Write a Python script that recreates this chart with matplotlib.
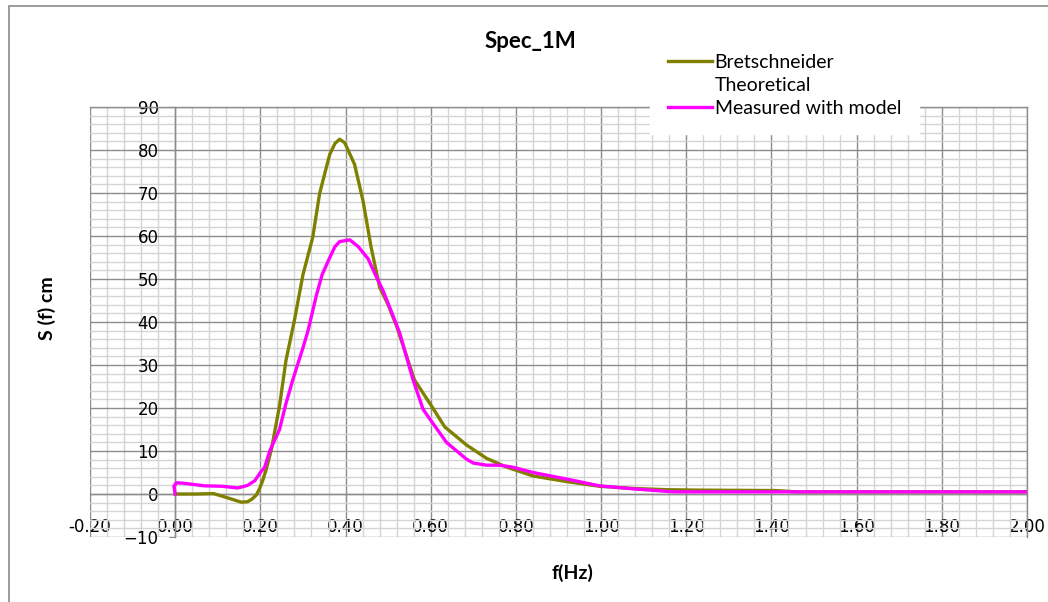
import numpy as np
import matplotlib
matplotlib.use("Agg")
import matplotlib.pyplot as plt
from matplotlib.lines import Line2D
from matplotlib.patches import Rectangle
from matplotlib.ticker import MultipleLocator, FormatStrFormatter

# Bretschneider (theoretical) spectrum
bret_f = [0.00, 0.05, 0.09, 0.12, 0.155, 0.17, 0.18, 0.19, 0.198, 0.205,
          0.214, 0.226, 0.245, 0.26, 0.28, 0.30, 0.323, 0.339, 0.355, 0.363,
          0.375, 0.386, 0.398, 0.421, 0.441, 0.46, 0.48, 0.50, 0.52, 0.54,
          0.562, 0.601, 0.633, 0.684, 0.731, 0.777, 0.84, 0.918, 0.996, 1.074,
          1.153, 1.23, 1.32, 1.41, 1.46, 1.60, 1.80, 2.00]
bret_s = [0.0, 0.0, 0.1, -0.8, -1.9, -1.8, -1.2, -0.3, 1.2, 3.0,
          5.8, 10.4, 20.5, 31.0, 40.4, 51.0, 59.7, 69.8, 76.0, 79.0,
          81.5, 82.5, 81.7, 76.7, 68.2, 57.4, 48.1, 44.0, 39.0, 33.0,
          26.5, 20.6, 15.6, 11.4, 8.3, 6.3, 4.2, 2.9, 1.8, 1.3,
          1.0, 0.9, 0.85, 0.8, 0.5, 0.5, 0.5, 0.5]

# measured spectrum with model
meas_f = [0.00, -0.003, 0.003, 0.02, 0.069, 0.11, 0.147, 0.17, 0.187, 0.20,
          0.21, 0.222, 0.245, 0.26, 0.276, 0.284, 0.30, 0.312, 0.331, 0.345,
          0.363, 0.375, 0.386, 0.41, 0.43, 0.453, 0.47, 0.488, 0.51, 0.527,
          0.54, 0.558, 0.582, 0.601, 0.637, 0.684, 0.70, 0.731, 0.763, 0.794,
          0.84, 0.918, 0.996, 1.075, 1.169, 1.40, 1.70, 2.00]
meas_s = [0.0, 1.8, 2.6, 2.5, 1.9, 1.8, 1.4, 2.0, 3.1, 5.0,
          6.2, 10.0, 15.0, 21.0, 26.5, 29.0, 34.0, 38.0, 46.0, 51.0,
          55.0, 57.5, 58.7, 59.1, 57.5, 54.7, 51.0, 47.3, 41.8, 37.5,
          33.0, 26.7, 19.7, 17.0, 12.0, 8.1, 7.2, 6.7, 6.7, 6.2,
          5.0, 3.5, 1.9, 1.2, 0.5, 0.5, 0.5, 0.5]

x_ticks = np.arange(-0.2, 2.01, 0.2)
y_ticks = np.arange(-10, 91, 10)

fig = plt.figure(figsize=(10.48, 6.02), dpi=100)
fig.patches.append(Rectangle((9 / 1048, -0.05), 1.1, 1 - 6 / 602 + 0.05,
                             transform=fig.transFigure, fill=False,
                             edgecolor="#8a8a8a", lw=1.2))

ax = fig.add_axes([90 / 1048, 1 - 537 / 602, (1027 - 90) / 1048, (537 - 107) / 602])

ax.plot(bret_f, bret_s, color="#808000", lw=2.4, label="Bretschneider", zorder=3)
ax.plot(meas_f, meas_s, color="#ff00ff", lw=2.4, label="Measured with model", zorder=4)

ax.set_xlim(-0.2, 2.0)
ax.set_ylim(-10, 90)
ax.set_xticks(x_ticks)
ax.set_yticks(y_ticks)
ax.xaxis.set_major_formatter(FormatStrFormatter("%.2f"))
ax.xaxis.set_minor_locator(MultipleLocator(0.04))
ax.yaxis.set_minor_locator(MultipleLocator(2))

ax.grid(which="major", color="#8c8c8c", lw=1.0, zorder=1)
ax.grid(which="minor", color="#d4d4d4", lw=1.0, zorder=0)
ax.set_axisbelow(True)

# axes cross at the origin
ax.spines["left"].set_position(("data", 0))
ax.spines["bottom"].set_position(("data", 0))
for sp in ax.spines.values():
    sp.set_color("#8c8c8c")
    sp.set_linewidth(1.0)

ax.tick_params(axis="x", which="major", direction="out", length=5, color="#8c8c8c",
               pad=12, labelsize=12, labelcolor="black")
ax.tick_params(axis="y", which="major", direction="out", length=4, color="#8c8c8c",
               pad=8, labelsize=12, labelcolor="black")
ax.tick_params(which="minor", length=0)

fig.text(530 / 1048, 1 - 41 / 602, "Spec_1M", ha="center", va="center",
         fontsize=16, fontweight="bold", family="Lato")
fig.text(47 / 1048, 1 - 308 / 602, "S (f) cm", ha="center", va="center",
         rotation=90, fontsize=14, fontweight="bold", family="Lato")
fig.text(573 / 1048, 1 - 573 / 602, "f(Hz)", ha="center", va="center",
         fontsize=14, fontweight="bold", family="Lato")

handles = [Line2D([], [], color="#808000", lw=2.4),
           Line2D([], [], color="none"),
           Line2D([], [], color="#ff00ff", lw=2.4)]
labels = ["Bretschneider", "Theoretical", "Measured with model"]
leg = fig.legend(handles, labels, loc="upper left",
                 bbox_to_anchor=(650 / 1048, 1 - 36 / 602),
                 prop={"family": "Lato", "size": 14},
                 frameon=True, fancybox=False, framealpha=1,
                 borderpad=0.9, borderaxespad=0, handlelength=2.27,
                 handletextpad=0.15, labelspacing=0.32)
leg.get_frame().set_edgecolor("white")
leg.get_frame().set_facecolor("white")
leg.set_zorder(10)

fig.savefig("out.png", dpi=100)
